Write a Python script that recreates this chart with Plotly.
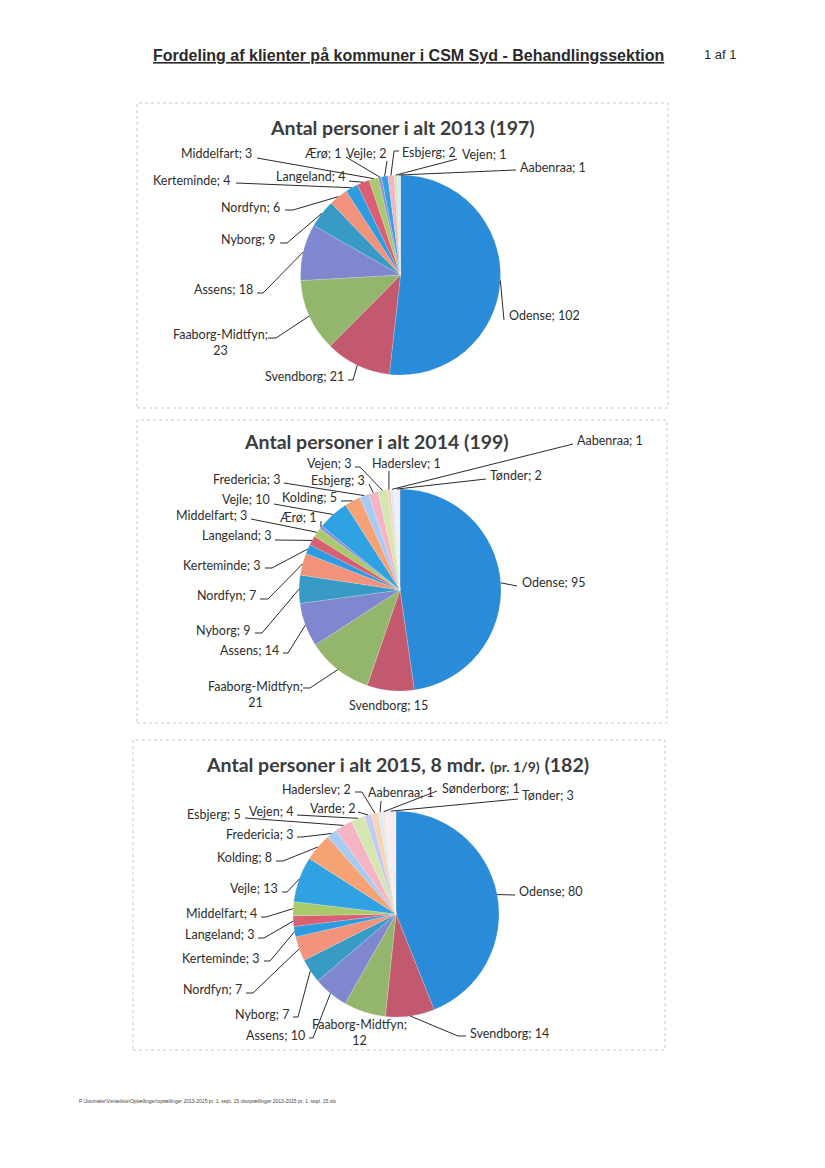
import math
import plotly.graph_objects as go

# page is 825x1168; the html body adds an 8px margin, so the figure is drawn 8px in
OFF = 8
W, H = 809, 1152

# ---------------- data ----------------
names_2013 = ["Odense", "Svendborg", "Faaborg-Midtfyn", "Assens", "Nyborg", "Nordfyn",
              "Kerteminde", "Langeland", "Middelfart", "Ærø", "Vejle", "Esbjerg", "Vejen", "Aabenraa"]
values_2013 = [102, 21, 23, 18, 9, 6, 4, 4, 3, 1, 2, 2, 1, 1]

names_2014 = ["Odense", "Svendborg", "Faaborg-Midtfyn", "Assens", "Nyborg", "Nordfyn",
              "Kerteminde", "Langeland", "Middelfart", "Ærø", "Vejle", "Kolding", "Fredericia",
              "Esbjerg", "Vejen", "Haderslev", "Aabenraa", "Tønder"]
values_2014 = [95, 15, 21, 14, 9, 7, 3, 3, 3, 1, 10, 5, 3, 3, 3, 1, 1, 2]

names_2015 = ["Odense", "Svendborg", "Faaborg-Midtfyn", "Assens", "Nyborg", "Nordfyn",
              "Kerteminde", "Langeland", "Middelfart", "Vejle", "Kolding", "Fredericia",
              "Esbjerg", "Vejen", "Varde", "Haderslev", "Aabenraa", "Sønderborg", "Tønder"]
values_2015 = [80, 14, 12, 10, 7, 7, 3, 3, 4, 13, 8, 3, 5, 4, 2, 2, 1, 1, 3]

titles = [
    "<b>Antal personer i alt 2013 (197)</b>",
    "<b>Antal personer i alt 2014 (199)</b>",
    "<b>Antal personer i alt 2015, 8 mdr. <span style='font-size:14px'>(pr. 1/9)</span> (182)</b>",
]

# ---------------- styles ----------------
COLORS = {
    "Odense": "#2A8CD8", "Svendborg": "#C2596F", "Faaborg-Midtfyn": "#93B56C", "Assens": "#7F87CE",
    "Nyborg": "#389BC6", "Nordfyn": "#F1927A", "Kerteminde": "#2C9BE0", "Langeland": "#D95F72",
    "Middelfart": "#A9C96F", "Ærø": "#8D8FD6", "Vejle": "#30A2E2", "Kolding": "#F7A274",
    "Fredericia": "#A7CBF1", "Esbjerg": "#F5B3C4", "Vejen": "#D5E7B0", "Varde": "#C5CAF1",
    "Haderslev": "#F8D3B5", "Aabenraa": "#D3ECF8", "Sønderborg": "#FBE7D8", "Tønder": "#F6ECF6",
}

# layout of each chart: pie centre/radius (page px), title position, label placement
# label: (text x, text y, anchor, line start x, line start y, stub)
charts = [
    dict(names=names_2013, values=values_2013, cx=400.5, cy=275, r=100, title=titles[0], tx=402, ty=128,
         labels=[
             (507, 315, "left", 504, 320, 0),
             (346, 376, "right", 348, 380, 5),
             (220, 342, "center", 268, 338, 8),
             (255, 289, "right", 257, 293, 6),
             (278, 239, "right", 280, 243, 7),
             (282, 207, "right", 285, 210, 8),
             (233, 180, "right", 236, 183, 0),
             (347, 177, "right", 349, 181, 0),
             (254, 153, "right", 257, 158, 0),
             (344, 153, "right", 346, 157, 0),
             (388, 153, "right", 387, 161, 0),
             (400, 152, "left", 399, 151, -5),
             (460, 155, "left", 457, 159, 0),
             (518, 167, "left", 516, 170, 0),
         ]),
    dict(names=names_2014, values=values_2014, cx=400, cy=590, r=101, title=titles[1], tx=376, ty=441,
         labels=[
             (520, 582, "left", 517, 586, 0),
             (388, 705, "center", None, None, 0),
             (255, 694, "center", 303, 688, 7),
             (281, 650, "right", 283, 653, 5),
             (253, 630, "right", 255, 633, 7),
             (258, 595, "right", 260, 599, 8),
             (263, 565, "right", 265, 568, 7),
             (273, 536, "right", 275, 540, 0),
             (249, 515, "right", 251, 519, 0),
             (319, 517, "right", 321, 521, 0),
             (272, 500, "right", 274, 504, 0),
             (339, 497, "right", 341, 501, 0),
             (282, 479, "right", 284, 483, 0),
             (367, 480, "right", 369, 484, 0),
             (353, 463, "right", 355, 467, 5),
             (370, 463, "left", 389, 471, 0),
             (575, 440, "left", 573, 444, 0),
             (488, 475, "left", 486, 479, 0),
         ]),
    dict(names=names_2015, values=values_2015, cx=396, cy=914, r=103, title=titles[2], tx=397, ty=764,
         labels=[
             (517, 891, "left", 515, 895, 0),
             (468, 1033, "left", 466, 1036, -8),
             (359, 1032, "center", None, None, 0),
             (307, 1035, "right", 309, 1038, 4),
             (292, 1014, "right", 293, 1017, 5),
             (244, 989, "right", 246, 993, 7),
             (262, 958, "right", 264, 961, 6),
             (256, 934, "right", 258, 938, 6),
             (259, 913, "right", 261, 917, 5),
             (280, 888, "right", 282, 892, 5),
             (274, 857, "right", 276, 861, 7),
             (295, 834, "right", 297, 837, 5),
             (243, 814, "right", 245, 818, 0),
             (295, 811, "right", 297, 815, 0),
             (357, 808, "right", 358, 812, 0),
             (353, 789, "right", 355, 792, 7),
             (401, 792, "center", 381, 801, 0),
             (440, 788, "left", 437, 791, 0),
             (520, 795, "left", 518, 799, 0),
         ]),
]

boxes = [(137, 103, 668, 408), (137, 420, 667, 723), (133, 740, 665, 1050)]


def X(px):
    return (px - OFF) / W


def Y(py):
    return 1 - (py - OFF) / H


fig = go.Figure()
annotations = []
shapes = []

for b in boxes:
    shapes.append(dict(type="rect", xref="paper", yref="paper", x0=X(b[0]), x1=X(b[2]),
                       y0=Y(b[3]), y1=Y(b[1]), line=dict(color="#bdbdbd", width=0.8, dash="dot"),
                       layer="below"))

for ch in charts:
    cx, cy, r = ch["cx"], ch["cy"], ch["r"]
    names, values = ch["names"], ch["values"]
    fig.add_trace(go.Pie(
        labels=names, values=values, sort=False, direction="clockwise", rotation=0,
        textinfo="none", hoverinfo="label+value", showlegend=False,
        marker=dict(colors=[COLORS[n] for n in names], line=dict(color="rgba(255,255,255,0.35)", width=0.5)),
        domain=dict(x=[X(cx - r), X(cx + r)], y=[Y(cy + r), Y(cy - r)]),
    ))
    annotations.append(dict(x=X(ch["tx"]), y=Y(ch["ty"]), xref="paper", yref="paper", text=ch["title"],
                            showarrow=False, xanchor="center", yanchor="middle",
                            font=dict(family="Lato", size=19.5, color="#3c3c3c")))
    total = sum(values)
    cum = 0
    for n, v, lab in zip(names, values, ch["labels"]):
        tx, ty, anchor, sx, sy, stub = lab
        theta = 2 * math.pi * (cum + v / 2) / total
        cum += v
        txt = f"{n}; {v}" if n != "Faaborg-Midtfyn" else f"{n};<br>{v}"
        annotations.append(dict(x=X(tx), y=Y(ty), xref="paper", yref="paper", text=txt,
                                showarrow=False, xanchor=anchor, yanchor="middle", align="center",
                                font=dict(family="Lato", size=12.5, color="#2e2e2e")))
        if sx is None:
            continue
        ex = cx + r * math.sin(theta)
        ey = cy - r * math.cos(theta)
        path = f"M {X(sx)} {Y(sy)} L {X(sx + stub)} {Y(sy)} L {X(ex)} {Y(ey)}"
        shapes.append(dict(type="path", xref="paper", yref="paper", path=path,
                           line=dict(color="#2a2a2a", width=1)))

# page header and footer
annotations.append(dict(x=X(408), y=Y(56), xref="paper", yref="paper",
                        text="<b><u>Fordeling af klienter på kommuner i CSM Syd - Behandlingssektion</u></b>",
                        showarrow=False, xanchor="center", yanchor="middle",
                        font=dict(family="Liberation Sans", size=16, color="#2a2a2a")))
annotations.append(dict(x=X(702), y=Y(54), xref="paper", yref="paper", text="1 af 1",
                        showarrow=False, xanchor="left", yanchor="middle",
                        font=dict(family="Liberation Sans", size=13, color="#2a2a2a")))
annotations.append(dict(x=X(77), y=Y(1101), xref="paper", yref="paper",
                        text="F:\\Journaler\\Venteliste\\Optællinger\\optællinger 2013-2015 pr. 1. sept. 15.xlsoptællinger 2013-2015 pr. 1. sept. 15.xls",
                        showarrow=False, xanchor="left", yanchor="middle",
                        font=dict(family="Liberation Sans", size=5, color="#444")))

fig.update_layout(width=W, height=H, autosize=False, margin=dict(l=0, r=0, t=0, b=0),
                  paper_bgcolor="white", plot_bgcolor="white",
                  annotations=annotations, shapes=shapes)

fig.write_html("out.html")
